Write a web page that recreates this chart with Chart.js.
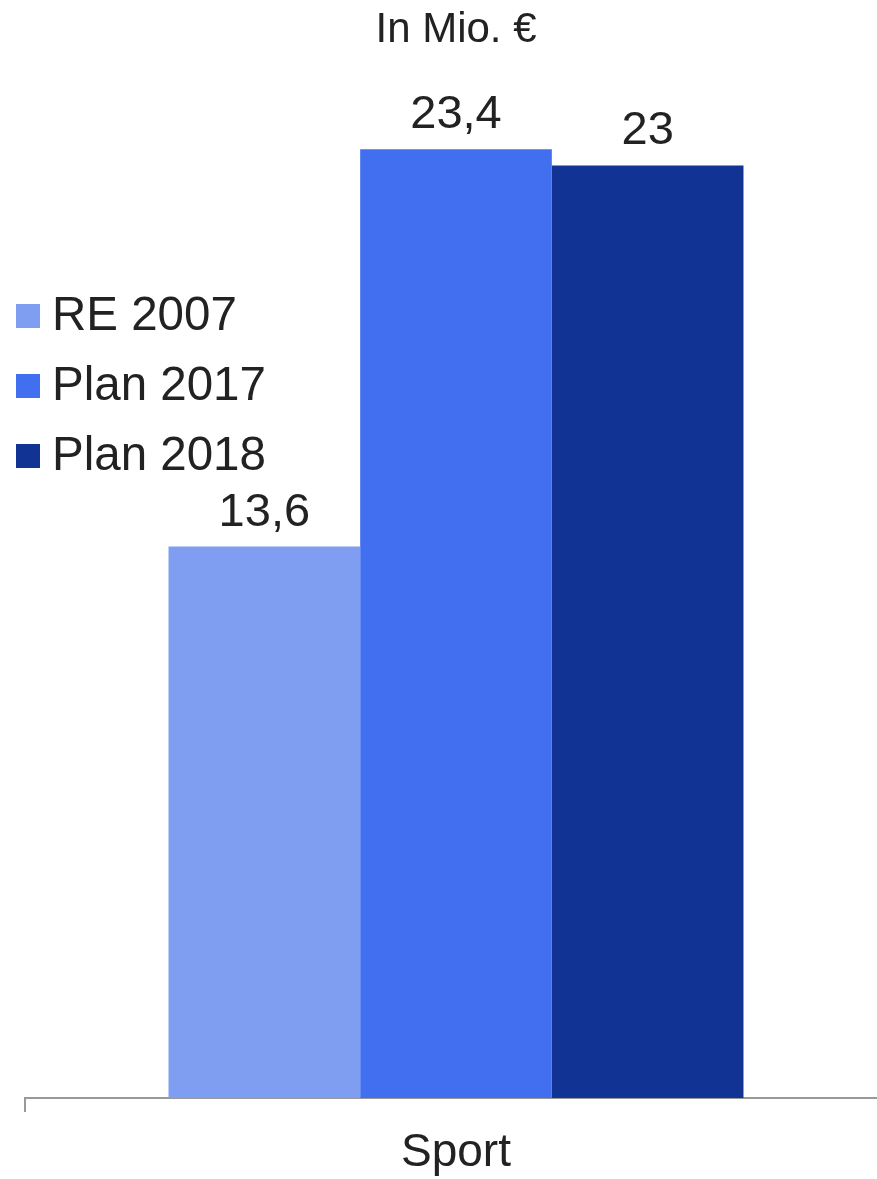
<!DOCTYPE html>
<html>
<head>
<meta charset="utf-8">
<script src="https://cdn.jsdelivr.net/npm/chart.js@4"></script>
<style>
  html, body { margin: 0; padding: 0; background: #fff; overflow: hidden; }
  #wrap { position: relative; width: 877px; height: 1179px; overflow: hidden; }
</style>
</head>
<body>
<div id="wrap"><canvas id="chart" width="887" height="1194"></canvas></div>
<script>
const categories = ['Sport'];
const seriesNames = ['RE 2007', 'Plan 2017', 'Plan 2018'];
const seriesValues = [[13.6], [23.4], [23]];
const seriesColors = ['#7f9ef2', '#416ff0', '#103394'];

const textColor = '#222';
const fontFamily = '"Liberation Sans", Arial, sans-serif';

// values above bars, German decimal comma
const valueLabels = {
    id: 'valueLabels',
    afterDatasetsDraw(chart) {
        const ctx = chart.ctx;
        ctx.save();
        ctx.font = '47px ' + fontFamily;
        ctx.fillStyle = textColor;
        ctx.textAlign = 'center';
        ctx.textBaseline = 'alphabetic';
        chart.data.datasets.forEach((ds, i) => {
            chart.getDatasetMeta(i).data.forEach((bar, j) => {
                const txt = String(ds.data[j]).replace('.', ',');
                ctx.fillText(txt, bar.x, bar.y - 21);
            });
        });
        ctx.restore();
    }
};

// legend drawn over the left part of the plot
const sideLegend = {
    id: 'sideLegend',
    afterDraw(chart) {
        const ctx = chart.ctx;
        ctx.save();
        ctx.font = '47.5px ' + fontFamily;
        ctx.textBaseline = 'middle';
        chart.data.datasets.forEach((ds, i) => {
            const y = 316 + i * 70;
            ctx.fillStyle = ds.backgroundColor;
            ctx.fillRect(16, y - 12, 24, 24);
            ctx.fillStyle = textColor;
            ctx.fillText(ds.label, 52, y + 1);
        });
        ctx.restore();
    }
};

new Chart(document.getElementById('chart'), {
    type: 'bar',
    data: {
        labels: categories,
        datasets: seriesNames.map((name, i) => ({
            label: name,
            data: seriesValues[i],
            backgroundColor: seriesColors[i],
            barPercentage: 1,
            categoryPercentage: 0.667
        }))
    },
    options: {
        responsive: false,
        animation: false,
        layout: { padding: { left: 25, right: 0, top: 0, bottom: 0 } },
        plugins: {
            legend: { display: false },
            tooltip: { enabled: false },
            title: {
                display: true,
                text: 'In Mio. €',
                color: textColor,
                font: { family: fontFamily, size: 42, weight: 'normal', lineHeight: 1.2 },
                padding: { top: 5, bottom: 29 }
            }
        },
        scales: {
            x: {
                border: { color: '#999', width: 2 },
                grid: { drawOnChartArea: false, drawTicks: true, tickLength: 14, color: '#999', lineWidth: 2 },
                ticks: { color: textColor, font: { family: fontFamily, size: 46, lineHeight: 1 }, padding: 18 }
            },
            y: {
                display: false,
                min: 0,
                max: 25
            }
        }
    },
    plugins: [valueLabels, sideLegend]
});
</script>
</body>
</html>
